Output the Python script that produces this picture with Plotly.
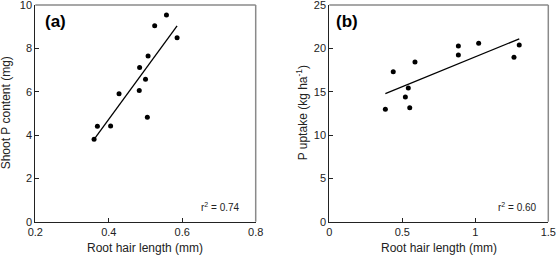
import numpy as np
import plotly.graph_objects as go

# Panel (a): root hair length (mm) vs shoot P content (mg)
a_x = [0.360, 0.369, 0.405, 0.428, 0.483, 0.484, 0.500, 0.505, 0.507, 0.525, 0.557, 0.586]
a_y = [3.80, 4.40, 4.42, 5.91, 6.06, 7.12, 6.57, 4.82, 7.65, 9.04, 9.54, 8.49]

# Panel (b): root hair length (mm) vs P uptake (kg ha-1)
b_x = [0.384, 0.438, 0.521, 0.541, 0.551, 0.587, 0.884, 0.884, 1.023, 1.265, 1.301]
b_y = [12.97, 17.31, 14.39, 15.43, 13.15, 18.43, 20.27, 19.23, 20.58, 18.97, 20.39]

a_r2 = "0.74"
b_r2 = "0.60"

a_xticks = [0.2, 0.4, 0.6, 0.8]
a_yticks = [0, 2, 4, 6, 8, 10]
b_xticks = [0, 0.5, 1, 1.5]
b_yticks = [0, 5, 10, 15, 20, 25]

FONT = "Arial, 'Liberation Sans', sans-serif"
TXT = "#222"


def fit_line(x, y):
    k, c = np.polyfit(x, y, 1)
    xs = np.array([min(x), max(x)])
    return xs, k * xs + c


fig = go.Figure()

ax_xs, ax_ys = fit_line(a_x, a_y)
bx_xs, bx_ys = fit_line(b_x, b_y)

marker = dict(color="black", size=5)
line = dict(color="black", width=1.3)

fig.add_trace(go.Scatter(x=a_x, y=a_y, mode="markers", marker=marker, xaxis="x", yaxis="y"))
fig.add_trace(go.Scatter(x=ax_xs, y=ax_ys, mode="lines", line=line, xaxis="x", yaxis="y"))
fig.add_trace(go.Scatter(x=b_x, y=b_y, mode="markers", marker=marker, xaxis="x2", yaxis="y2"))
fig.add_trace(go.Scatter(x=bx_xs, y=bx_ys, mode="lines", line=line, xaxis="x2", yaxis="y2"))

W, H = 557, 257
dom_a = [35.3 / W, 255.7 / W]
dom_b = [329.3 / W, 548.3 / W]
dom_y = [(H - 221.7) / H, (H - 5) / H]

axis_common = dict(
    showline=True, linecolor=TXT, linewidth=1, mirror=False,
    ticks="inside", ticklen=4, tickcolor=TXT, tickwidth=1,
    showgrid=False, zeroline=False, automargin=False,
    ticklabeloverflow="allow",
    tickfont=dict(family=FONT, size=11, color=TXT),
)

fig.update_layout(
    width=W, height=H,
    margin=dict(l=0, r=0, t=0, b=0),
    paper_bgcolor="white", plot_bgcolor="white",
    showlegend=False,
    font=dict(family=FONT, color=TXT),
    xaxis=dict(domain=dom_a, range=[0.2, 0.8], tickvals=a_xticks,
               ticktext=[f"{v:.1f}" for v in a_xticks], anchor="y", **axis_common),
    yaxis=dict(domain=dom_y, range=[0, 10], tickvals=a_yticks, anchor="x", **axis_common),
    xaxis2=dict(domain=dom_b, range=[0, 1.5], tickvals=b_xticks,
                ticktext=["0", "0.5", "1", "1.5"], anchor="y2", **axis_common),
    yaxis2=dict(domain=dom_y, range=[0, 25], tickvals=b_yticks, anchor="x2", **axis_common),
)

# gray frame on top and right sides
for xr, yr in (("x domain", "y domain"), ("x2 domain", "y2 domain")):
    fig.add_shape(type="line", xref=xr, yref=yr, x0=0, x1=1, y0=1, y1=1,
                  line=dict(color="#8a8a8a", width=1.5))
    fig.add_shape(type="line", xref=xr, yref=yr, x0=1, x1=1, y0=0, y1=1,
                  line=dict(color="#8a8a8a", width=1.5))

title_font = dict(family=FONT, size=12, color=TXT)
# axis titles
fig.add_annotation(text="Root hair length (mm)", xref="paper", yref="paper",
                   x=sum(dom_a) / 2, y=(H - 248) / H, xanchor="center", yanchor="middle",
                   showarrow=False, font=title_font)
fig.add_annotation(text="Root hair length (mm)", xref="paper", yref="paper",
                   x=sum(dom_b) / 2, y=(H - 248) / H, xanchor="center", yanchor="middle",
                   showarrow=False, font=title_font)
fig.add_annotation(text="Shoot P content (mg)", xref="paper", yref="paper",
                   x=6 / W, y=sum(dom_y) / 2, xanchor="center", yanchor="middle",
                   textangle=-90, showarrow=False, font=title_font)
fig.add_annotation(text="P uptake (kg ha<sup>-1</sup>)", xref="paper", yref="paper",
                   x=302 / W, y=sum(dom_y) / 2, xanchor="center", yanchor="middle",
                   textangle=-90, showarrow=False, font=title_font)

fig.add_annotation(text="<b>(a)</b>", xref="paper", yref="paper", x=43 / W, y=(H - 21) / H,
                   xanchor="left", yanchor="middle", showarrow=False,
                   font=dict(family=FONT, size=17, color="black"))
fig.add_annotation(text="<b>(b)</b>", xref="paper", yref="paper", x=334 / W, y=(H - 21) / H,
                   xanchor="left", yanchor="middle", showarrow=False,
                   font=dict(family=FONT, size=17, color="black"))
fig.add_annotation(text=f"r<sup>2</sup> = {a_r2}", xref="paper", yref="paper", x=242 / W, y=(H - 207) / H,
                   xanchor="right", yanchor="middle", showarrow=False,
                   font=dict(family=FONT, size=10, color=TXT))
fig.add_annotation(text=f"r<sup>2</sup> = {b_r2}", xref="paper", yref="paper", x=539 / W, y=(H - 207) / H,
                   xanchor="right", yanchor="middle", showarrow=False,
                   font=dict(family=FONT, size=10, color=TXT))

fig.write_html("out.html", config={"displayModeBar": False},
               post_script="document.body.style.margin='0';")
